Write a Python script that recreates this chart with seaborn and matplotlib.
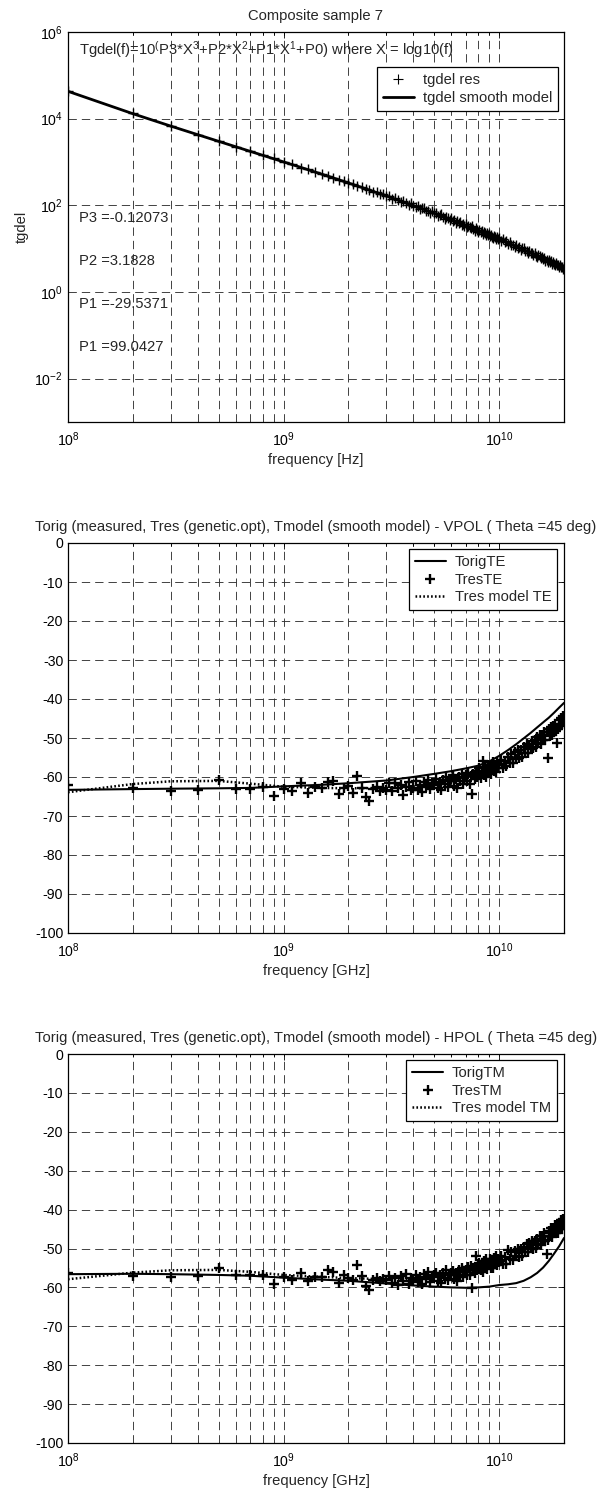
import numpy as np
import pandas as pd
import matplotlib
matplotlib.use("Agg")
import matplotlib.pyplot as plt
from matplotlib.lines import Line2D
from matplotlib.ticker import (FixedLocator, FuncFormatter, LogLocator,
                               NullFormatter, NullLocator)
import seaborn as sns

# ---------------------------------------------------------------- data
# measurement frequencies (GHz)
FREQ_GHZ = [
    0.1, 0.2, 0.3, 0.4, 0.5, 0.6, 0.7, 0.8, 0.9, 1.0,
    1.1, 1.2, 1.3, 1.4, 1.5, 1.6, 1.7, 1.8, 1.9, 2.0,
    2.1, 2.2, 2.3, 2.4, 2.5, 2.6, 2.7, 2.8, 2.9, 3.0,
    3.1, 3.2, 3.3, 3.4, 3.5, 3.6, 3.7, 3.8, 3.9, 4.0,
    4.1, 4.2, 4.3, 4.4, 4.5, 4.6, 4.7, 4.8, 4.9, 5.0,
    5.1, 5.2, 5.3, 5.4, 5.5, 5.6, 5.7, 5.8, 5.9, 6.0,
    6.1, 6.2, 6.3, 6.4, 6.5, 6.6, 6.7, 6.8, 6.9, 7.0,
    7.1, 7.2, 7.3, 7.4, 7.5, 7.6, 7.7, 7.8, 7.9, 8.0,
    8.1, 8.2, 8.3, 8.4, 8.5, 8.6, 8.7, 8.8, 8.9, 9.0,
    9.1, 9.2, 9.3, 9.4, 9.5, 9.6, 9.7, 9.8, 9.9, 10.0,
    10.2, 10.4, 10.6, 10.8, 11.0, 11.2, 11.4, 11.6, 11.8, 12.0,
    12.2, 12.4, 12.6, 12.8, 13.0, 13.2, 13.4, 13.6, 13.8, 14.0,
    14.2, 14.4, 14.6, 14.8, 15.0, 15.2, 15.4, 15.6, 15.8, 16.0,
    16.2, 16.4, 16.6, 16.8, 17.0, 17.2, 17.4, 17.6, 17.8, 18.0,
    18.2, 18.4, 18.6, 18.8, 19.0, 19.2, 19.4, 19.6, 19.8, 20.0,
]

# retrieved loss tangent (tgdel res)
TGDEL_RES = [
    42500, 13300, 6600, 4300, 3050, 2220, 1790, 1420, 1210, 995,
    880, 745, 672, 582, 535, 468, 436, 386, 362, 324,
    308, 276, 264, 238, 229, 207, 201, 182, 178, 162,
    161.8, 139.7, 148.9, 129.4, 117.2, 126.5, 114.7, 101.8, 111.7, 96.0,
    90.8, 95.0, 80.6, 85.6, 85.4, 72.7, 75.1, 65.1, 72.3, 65.1,
    66.6, 57.4, 60.1, 61.5, 52.8, 49.4, 54.5, 49.7, 45.7, 49.9,
    43.7, 46.3, 39.0, 42.7, 39.4, 41.8, 35.3, 37.7, 34.1, 36.2,
    31.2, 34.2, 32.3, 29.4, 32.5, 28.4, 26.2, 29.5, 27.1, 24.8,
    27.5, 24.1, 25.2, 22.0, 24.6, 22.8, 21.0, 23.5, 20.7, 21.6,
    19.3, 21.1, 19.0, 17.7, 19.9, 18.6, 16.7, 18.3, 16.5, 17.2,
    15.0, 16.4, 14.6, 14.7, 12.5, 13.9, 12.2, 12.4, 11.1, 12.2,
    10.6, 11.0, 9.44, 10.1, 10.1, 8.70, 8.95, 7.89, 8.80, 7.88,
    8.10, 7.09, 7.89, 6.88, 6.40, 7.00, 6.61, 5.98, 6.54, 5.70,
    6.12, 5.33, 5.51, 4.94, 5.53, 4.88, 5.10, 4.39, 4.88, 4.44,
    4.19, 4.60, 4.11, 4.24, 3.70, 4.11, 3.68, 3.81, 3.39, 3.70,
]

# Tres, VPOL (TE), dB
TRES_TE = [
    -62.1, -62.9, -63.5, -63.3, -60.8, -63.0, -63.1, -62.6, -64.9, -63.2,
    -63.5, -61.5, -64.0, -62.6, -62.7, -61.2, -61.0, -64.4, -62.7, -62.4,
    -64.1, -59.7, -62.8, -65.0, -66.2, -63.2, -62.6, -63.5, -62.9, -63.4,
    -61.6, -63.5, -61.5, -62.9, -62.0, -64.5, -62.6, -61.4, -63.3, -62.7,
    -61.0, -63.4, -62.1, -63.9, -61.4, -62.6, -60.7, -63.1, -62.0, -61.5,
    -60.4, -62.9, -61.2, -63.3, -60.8, -61.7, -59.9, -62.6, -61.1, -60.5,
    -59.6, -62.2, -60.4, -62.7, -59.9, -61.1, -59.2, -61.8, -60.3, -59.5,
    -61.0, -58.9, -61.7, -59.7, -64.4, -59.2, -60.6, -58.4, -60.1, -59.0,
    -57.8, -60.3, -58.6, -56.0, -59.5, -57.4, -59.9, -58.0, -56.9, -58.8,
    -57.1, -59.3, -57.6, -56.2, -58.4, -56.9, -58.8, -56.1, -57.7, -56.6,
    -55.7, -57.8, -55.9, -57.3, -54.8, -56.5, -54.2, -56.4, -53.7, -55.3,
    -53.1, -55.2, -53.0, -54.9, -52.2, -53.8, -51.6, -53.9, -51.7, -52.9,
    -50.7, -52.6, -50.6, -52.3, -49.8, -51.4, -49.3, -51.5, -49.2, -50.6,
    -48.5, -50.4, -48.4, -55.0, -47.6, -49.5, -47.2, -49.3, -47.0, -48.5,
    -46.4, -48.3, -51.3, -47.6, -45.3, -47.0, -44.8, -46.5, -44.3, -45.8,
]

# Tres, HPOL (TM), dB
TRES_TM = [
    -56.2, -57.0, -57.3, -57.0, -54.9, -56.9, -56.9, -56.9, -59.2, -57.3,
    -58.0, -56.4, -58.3, -57.3, -57.2, -55.5, -56.0, -58.8, -56.9, -57.7,
    -58.1, -54.3, -57.0, -59.7, -60.7, -58.2, -57.6, -58.3, -57.9, -58.0,
    -57.1, -58.9, -57.6, -59.3, -57.0, -58.4, -56.5, -59.0, -57.7, -58.2,
    -56.8, -58.6, -57.3, -59.1, -56.6, -57.9, -56.1, -58.5, -57.4, -56.9,
    -56.4, -58.4, -56.9, -58.8, -56.3, -57.6, -55.6, -58.2, -56.8, -56.2,
    -55.8, -57.9, -56.3, -58.3, -55.6, -56.9, -55.0, -57.4, -56.1, -55.4,
    -56.8, -54.7, -56.9, -54.6, -60.2, -55.0, -56.3, -52.0, -55.5, -54.1,
    -53.7, -55.6, -54.0, -56.0, -53.1, -54.7, -52.6, -55.2, -53.6, -54.2,
    -52.8, -54.9, -53.2, -55.1, -52.4, -53.9, -51.9, -54.3, -52.7, -53.4,
    -51.9, -53.9, -52.2, -54.0, -50.5, -52.8, -50.8, -52.9, -50.6, -51.9,
    -50.0, -52.1, -50.2, -51.9, -49.5, -50.9, -48.8, -51.0, -48.7, -49.9,
    -48.0, -50.1, -48.2, -49.9, -47.5, -48.9, -46.8, -49.0, -46.7, -48.0,
    -46.0, -48.1, -51.5, -47.9, -45.5, -46.9, -44.8, -47.0, -44.7, -46.0,
    -44.0, -46.1, -44.2, -45.9, -43.5, -44.9, -42.8, -44.9, -42.4, -43.7,
]

# smooth curves (GHz / dB)
CURVE_GHZ = [0.1, 0.2, 0.3, 0.5, 0.7, 1.0, 1.5, 2, 3, 4, 5, 6, 7, 8, 9,
             10, 11, 12, 13, 14, 15, 16, 17, 18, 19, 20]
TORIG_TE = [-63.3, -63.1, -63.0, -62.9, -62.8, -62.4, -62.0, -61.6, -60.9,
            -60.0, -59.2, -58.5, -57.8, -57.1, -56.0, -54.6, -53.1, -51.6,
            -50.1, -48.7, -47.3, -46.0, -44.8, -43.5, -42.2, -41.0]
TMODEL_TE = [-63.9, -61.8, -61.1, -61.0, -61.7, -62.5, -62.8, -62.9, -62.8,
             -62.4, -61.8, -61.1, -60.3, -59.4, -58.3, -57.1, -55.9, -54.6,
             -53.3, -52.0, -50.8, -49.7, -48.6, -47.4, -46.1, -44.6]
TORIG_TM = [-56.6, -56.5, -56.6, -56.8, -57.0, -57.5, -58.0, -58.3, -59.0,
            -59.5, -59.8, -60.0, -60.1, -60.0, -59.8, -59.4, -59.2, -58.9,
            -58.3, -57.4, -56.3, -54.9, -53.2, -51.3, -49.4, -47.3]
TMODEL_TM = [-57.9, -56.2, -55.6, -55.5, -56.0, -56.8, -57.3, -57.6, -57.9,
             -57.8, -57.4, -56.9, -56.2, -55.2, -54.2, -53.3, -52.4, -51.4,
             -50.4, -49.4, -48.4, -47.4, -46.4, -45.3, -44.3, -43.2]

# cubic fit of log10(tgdel) versus log10(f): P3, P2, P1, P0
POLY_COEFS = [-0.12073, 3.1828, -29.5371, 99.0427]
COEF_NAMES = ["P3", "P2", "P1", "P1"]

Y_TICKS_DB = [0, -10, -20, -30, -40, -50, -60, -70, -80, -90, -100]
Y_TICKS_LOG = [1e-2, 1e0, 1e2, 1e4, 1e6]
X_TICKS = [1e8, 1e9, 1e10]

# ---------------------------------------------------------------- style
sns.set_style("white")
plt.rcParams["font.family"] = ["Liberation Sans", "DejaVu Sans"]
plt.rcParams["mathtext.fontset"] = "custom"
plt.rcParams["mathtext.rm"] = "Liberation Sans"
plt.rcParams["mathtext.it"] = "Liberation Sans:italic"
plt.rcParams["mathtext.bf"] = "Liberation Sans:bold"
plt.rcParams["axes.unicode_minus"] = False
plt.rcParams["lines.scale_dashes"] = False

FS = 10.6        # titles, labels, legend, annotations
FS_TICK = 10.2   # tick labels
GRID_KW = dict(color="0.2", linewidth=0.65, linestyle=(0, (6.0, 3.6)))


def pow10(v, _pos):
    return r"$\mathregular{10^{%d}}$" % int(round(np.log10(v)))


def frame(ax, xlabel):
    ax.set_xscale("log")
    ax.set_xlim(1e8, 2e10)
    ax.xaxis.set_major_locator(FixedLocator(X_TICKS))
    ax.xaxis.set_minor_locator(LogLocator(base=10, subs=(2, 3, 4, 5, 6, 7, 8, 9), numticks=30))
    ax.xaxis.set_major_formatter(FuncFormatter(pow10))
    ax.xaxis.set_minor_formatter(NullFormatter())
    ax.set_axisbelow(True)
    ax.grid(True, which="major", axis="both", **GRID_KW)
    ax.grid(True, which="minor", axis="x", **GRID_KW)
    ax.tick_params(which="both", direction="in", top=True, right=True,
                   colors="k", labelsize=FS_TICK, width=0.6)
    ax.tick_params(which="major", length=4)
    ax.tick_params(which="minor", length=2.5)
    ax.tick_params(axis="x", which="both", pad=6)
    ax.tick_params(axis="y", which="both", pad=3.5)
    for sp in ax.spines.values():
        sp.set_color("k")
        sp.set_linewidth(0.9)
    ax.set_xlabel(xlabel, fontsize=FS, labelpad=3)


def legend(ax, handles, labels, anchor):
    lg = ax.legend(handles, labels, loc="upper right", bbox_to_anchor=anchor,
                   borderaxespad=0, frameon=True, fancybox=False,
                   framealpha=1, edgecolor="k", fontsize=FS,
                   borderpad=0.4, labelspacing=0.25, handlelength=2.1,
                   handletextpad=0.6)
    lg.get_frame().set_linewidth(0.9)


f_hz = np.array(FREQ_GHZ) * 1e9
c_hz = np.array(CURVE_GHZ) * 1e9

fig = plt.figure(figsize=(6.1, 14.9), dpi=100)
W = 610.0
H = 1490.0
ax1 = fig.add_axes([68 / W, 1 - 422 / H, 496 / W, 390 / H])
ax2 = fig.add_axes([68 / W, 1 - 933 / H, 496 / W, 390 / H])
ax3 = fig.add_axes([68 / W, 1 - 1443 / H, 496 / W, 389 / H])

# ---------------------------------------------------------------- tgdel
frame(ax1, "frequency [Hz]")
ax1.set_yscale("log")
ax1.set_ylim(1e-3, 1e6)
ax1.yaxis.set_major_locator(FixedLocator(Y_TICKS_LOG))
ax1.yaxis.set_minor_locator(NullLocator())
ax1.yaxis.set_major_formatter(FuncFormatter(pow10))
ax1.grid(True, which="major", axis="y", **GRID_KW)

top = pd.DataFrame({"f": f_hz, "res": TGDEL_RES,
                    "model": 10 ** np.polyval(POLY_COEFS, np.log10(f_hz))})
sns.scatterplot(data=top, x="f", y="res", marker="+", s=55, color="k",
                linewidth=1.0, ax=ax1, legend=False, zorder=3)
sns.lineplot(data=top, x="f", y="model", color="k", linewidth=2.0,
             estimator=None, sort=False, ax=ax1, legend=False, zorder=4)
ax1.set_ylabel("tgdel", fontsize=FS, labelpad=4)
ax1.set_title("Composite sample 7", fontsize=FS, pad=8.5)

ax1.text(1.12e8, 10 ** 5.6,
         r"Tgdel(f)=10$^{(}$P3*X$^{3}$+P2*X$^{2}$+P1*X$^{1}$+P0) where X = log10(f)",
         fontsize=FS, va="center", ha="left")
for name, coef, ypos in zip(COEF_NAMES, POLY_COEFS,
                            [10 ** 1.7, 10 ** 0.72, 10 ** -0.27, 10 ** -1.27]):
    ax1.text(1.12e8, ypos, f"{name} ={coef:g}", fontsize=FS, va="center", ha="left")

legend(ax1,
       [Line2D([], [], ls="none", marker="+", color="k", markersize=7.5, mew=0.8),
        Line2D([], [], color="k", lw=2.0)],
       ["tgdel res", "tgdel smooth model"], (0.988, 0.910))


# ---------------------------------------------------------------- transmission panels
def trans_panel(ax, orig, res, model, pol, tag):
    frame(ax, "frequency [GHz]")
    ax.set_ylim(-100, 0)
    ax.set_yticks(Y_TICKS_DB)
    ax.set_yticklabels([str(t) for t in Y_TICKS_DB])
    curves = pd.DataFrame({"f": c_hz, "orig": orig, "model": model})
    points = pd.DataFrame({"f": f_hz, "res": res})
    sns.lineplot(data=curves, x="f", y="orig", color="k", linewidth=1.5,
                 estimator=None, sort=False, ax=ax, legend=False, zorder=3)
    sns.scatterplot(data=points, x="f", y="res", marker="+", s=60, color="k",
                    linewidth=1.7, ax=ax, legend=False, zorder=4)
    sns.lineplot(data=curves, x="f", y="model", color="k", linewidth=1.8,
                 linestyle=(0, (1.2, 1.6)), estimator=None, sort=False,
                 ax=ax, legend=False, zorder=5)
    ax.set_ylabel("")
    ax.set_title("Torig (measured, Tres (genetic.opt), Tmodel (smooth model) - "
                 f"{pol} ( Theta =45 deg)", fontsize=FS, pad=8.5)
    legend(ax,
           [Line2D([], [], color="k", lw=1.5),
            Line2D([], [], ls="none", marker="+", color="k", markersize=7.5, mew=1.7),
            Line2D([], [], color="k", lw=1.8, ls=(0, (1.2, 1.6)))],
           [f"Torig{tag}", f"Tres{tag}", f"Tres model {tag}"], (0.986, 0.984))


trans_panel(ax2, TORIG_TE, TRES_TE, TMODEL_TE, "VPOL", "TE")
trans_panel(ax3, TORIG_TM, TRES_TM, TMODEL_TM, "HPOL", "TM")

fig.savefig("out.png", dpi=100, facecolor="white")
